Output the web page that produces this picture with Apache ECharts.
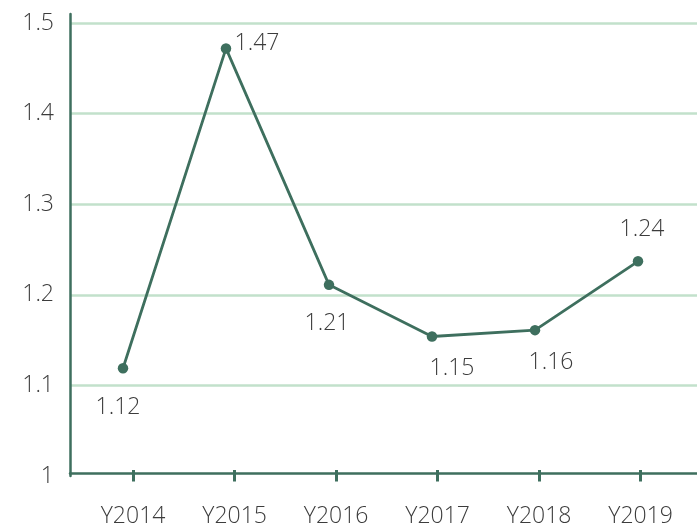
<!DOCTYPE html>
<html>
<head>
<meta charset="utf-8">
<script src="https://cdn.jsdelivr.net/npm/echarts@6/dist/echarts.min.js"></script>
<style>
html,body{margin:0;padding:0;background:#fff;}
#chart{width:697px;height:528px;}
</style>
</head>
<body>
<div id="chart"></div>
<script>
// ---- data ----
const categories = ['Y2014', 'Y2015', 'Y2016', 'Y2017', 'Y2018', 'Y2019'];
const values = [1.119, 1.472, 1.211, 1.154, 1.161, 1.237];
const yTicks = [1, 1.1, 1.2, 1.3, 1.4, 1.5];

// ---- styles / label placement (not data) ----
const labelOffsets = [[-5, 39], [31, -5], [-2, 39], [20, 32], [16, 32], [4, -32]];
const FONT = 'Open Sans';
const FW = 300;
const TXT = '#3c3c3c';
const DARK = '#3e6f5e';
const GRIDC = '#c2e1cb';

const yMin = yTicks[0], yMax = 1.51, yInt = 0.1;
const TOP = 14, BOTTOM = 52;

const chart = echarts.init(document.getElementById('chart'), null, {renderer: 'canvas'});
chart.setOption({
  animation: false,
  backgroundColor: '#fff',
  grid: [
    {left: 70, right: 0, top: TOP, bottom: BOTTOM},
    {left: 71.5, right: 7.5, top: TOP, bottom: BOTTOM},
    {left: 82.3, right: 5.6, top: TOP, bottom: BOTTOM}
  ],
  xAxis: [
    {gridIndex: 0, type: 'category', data: categories, offset: -3,
     axisLine: {show: true, lineStyle: {color: DARK, width: 2.5}},
     axisTick: {show: false}, axisLabel: {show: false}, splitLine: {show: false}},
    {gridIndex: 1, type: 'category', data: categories, show: false},
    {gridIndex: 2, type: 'category', data: categories, offset: -3,
     axisLine: {show: false},
     axisTick: {show: true, alignWithLabel: true, length: 11.5, lineStyle: {color: DARK, width: 3}},
     axisLabel: {show: true, margin: 35, fontFamily: FONT, fontWeight: FW, fontSize: 23, color: TXT}}
  ],
  yAxis: [
    {gridIndex: 0, type: 'value', min: yMin, max: yMax, interval: yInt,
     axisLine: {show: true, lineStyle: {color: DARK, width: 2.5}},
     axisTick: {show: false},
     axisLabel: {show: true, margin: 16, fontFamily: FONT, fontWeight: FW, fontSize: 23, color: TXT,
       showMaxLabel: false,
       formatter: v => (yTicks.some(t => Math.abs(t - v) < 1e-6) ? String(+v.toFixed(1)) : '')},
     splitLine: {show: true, showMinLine: false, showMaxLine: false, lineStyle: {color: GRIDC, width: 2.5}}},
    {gridIndex: 1, type: 'value', min: yMin, max: yMax, interval: yInt, show: false, splitLine: {show: false}},
    {gridIndex: 2, type: 'value', min: yMin, max: yMax, interval: yInt, show: false, splitLine: {show: false}}
  ],
  series: [{
    type: 'line',
    xAxisIndex: 1, yAxisIndex: 1,
    data: values.map((v, i) => ({value: v, label: {offset: labelOffsets[i]}})),
    symbol: 'circle', symbolSize: 10.5,
    lineStyle: {color: DARK, width: 2.8},
    itemStyle: {color: DARK},
    label: {show: true, position: 'inside', align: 'center', verticalAlign: 'middle',
      fontFamily: FONT, fontWeight: FW, fontSize: 23, color: TXT,
      formatter: p => p.value.toFixed(2)}
  }]
});
</script>
</body>
</html>
